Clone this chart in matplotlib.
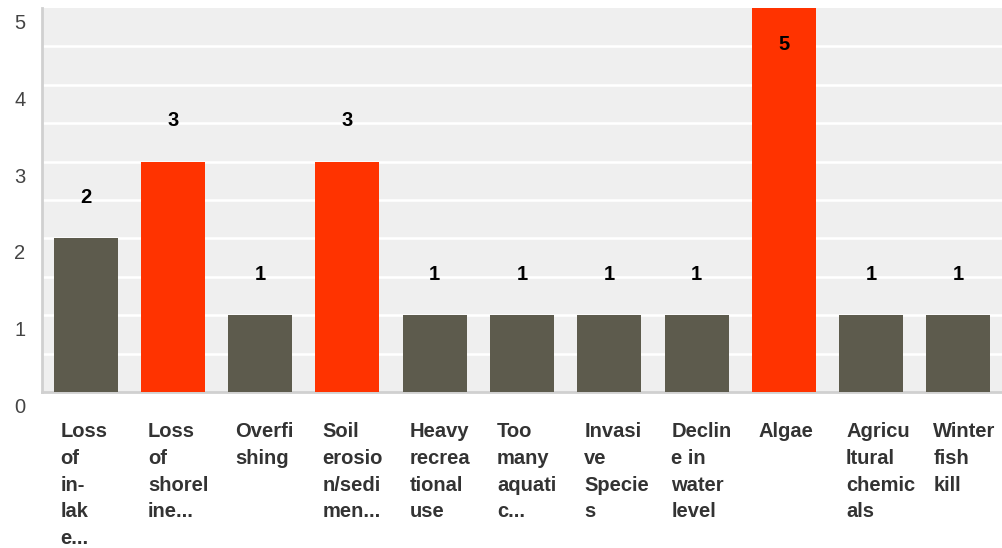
import matplotlib
matplotlib.use("Agg")
from matplotlib import pyplot as plt
from matplotlib.transforms import ScaledTranslation, blended_transform_factory

plt.rcParams['font.family'] = ['Liberation Sans', 'DejaVu Sans']

# 类别标签（按原图的折行方式）
labels = ["Loss\nof\nin-\nlak\ne...", "Loss\nof\nshorel\nine...", "Overfi\nshing",
          "Soil\nerosio\nn/sedi\nmen...", "Heavy\nrecrea\ntional\nuse", "Too\nmany\naquati\nc...",
          "Invasi\nve\nSpecie\ns", "Declin\ne in\nwater\nlevel", "Algae",
          "Agricu\nltural\nchemic\nals", "Winter\nfish\nkill"]
values = [2, 3, 1, 3, 1, 1, 1, 1, 5, 1, 1]
y_ticks = [0, 1, 2, 3, 4, 5]

grey = "#5d5b4d"
red = "#ff3300"
colors = [red if v >= 3 else grey for v in values]

fig = plt.figure(figsize=(10.02, 5.48), dpi=100)
ax = fig.add_axes([42/1002, 1-392/548, 1-42/1002, 384/548])
ax.set_facecolor("#efefef")

x = list(range(len(values)))
ax.bar(x, values, width=0.734, color=colors, zorder=3)

ax.set_xlim(-0.5, len(values)-0.5)
ax.set_ylim(0, 5)

# 白色网格线，每0.5一条
for g in [i*0.5 for i in range(1, 10)]:
    ax.axhline(g, color="white", lw=1.8, zorder=1)

# 数值标签
for i, v in zip(x, values):
    yy = v + 0.53 if v < 5 else v - 0.47
    ax.text(i, yy, str(v), ha="center", va="center", fontsize=14.5,
            fontweight="bold", color="black", zorder=4)

# y轴刻度
ax.set_yticks(y_ticks)
ax.set_yticklabels([str(t) for t in y_ticks])
ax.tick_params(axis="y", length=0, pad=12, labelsize=14.5, labelcolor="#444444")
off = ScaledTranslation(0, -6/100, fig.dpi_scale_trans)
for lab in ax.get_yticklabels():
    lab.set_verticalalignment("top")
    lab.set_transform(lab.get_transform() + off)

ax.set_xticks([])

# 类别标签
trans = blended_transform_factory(ax.transData, ax.transAxes)
for i, lab in zip(x, labels):
    ax.text(i - 0.287, -0.078, lab, transform=trans, ha="left", va="top",
            fontsize=14.5, fontweight="bold", color="#333333", linespacing=1.52)

for s in ["top", "right"]:
    ax.spines[s].set_visible(False)
ax.spines["left"].set_color("#d0d0d0")
ax.spines["left"].set_linewidth(2)
ax.spines["bottom"].set_color("#d0d0d0")
ax.spines["bottom"].set_linewidth(2)

plt.savefig("out.png", dpi=100)
